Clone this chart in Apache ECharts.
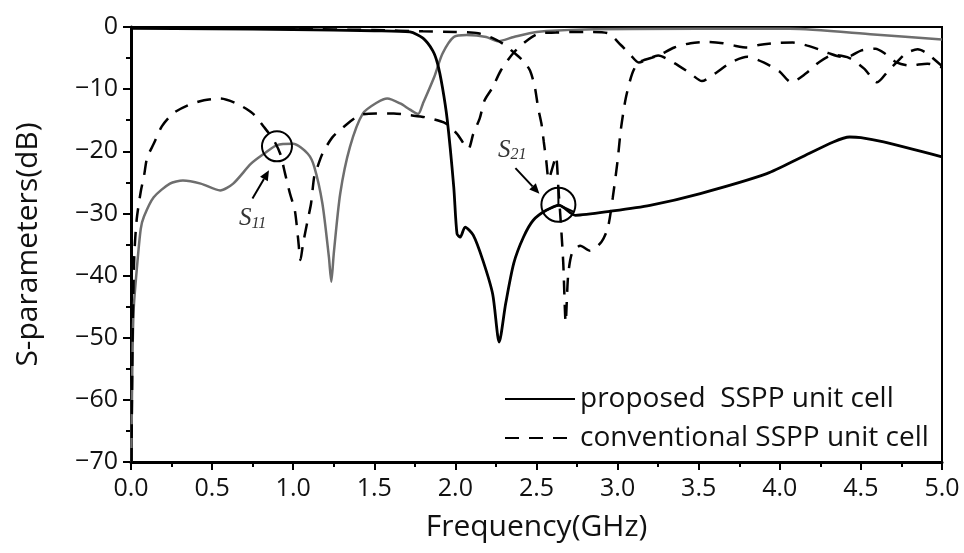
<!DOCTYPE html>
<html>
<head>
<meta charset="utf-8">
<title>S-parameters</title>
<script src="https://cdn.jsdelivr.net/npm/echarts@6/dist/echarts.min.js"></script>
<style>html,body{margin:0;padding:0;background:#fff}</style>
</head>
<body>
<div id="main" style="width:964px;height:553px;"></div>
<script>
// [frequency GHz, dB]
var proposedS21 = [[0,-0.2],[0.5,-0.3],[1.0,-0.4],[1.5,-0.6],[1.72,-0.8],[1.8,-1.8],[1.86,-3.8],[1.89,-5.9],[1.92,-9.7],[1.95,-15],[1.99,-25.8],[2.01,-33.3],[2.03,-33.8],[2.06,-32.2],[2.11,-33.5],[2.17,-37.6],[2.23,-43],[2.27,-50.7],[2.31,-44.5],[2.36,-38],[2.42,-33.8],[2.48,-31.1],[2.56,-29.5],[2.64,-28.7],[2.74,-30.3],[2.97,-29.6],[3.2,-28.7],[3.51,-26.8],[3.92,-23.6],[4.13,-21],[4.33,-18.5],[4.43,-17.7],[4.5,-17.8],[4.64,-18.5],[5.0,-20.9]];
var proposedS11 = [[0.002,-70],[0.008,-55],[0.016,-45.6],[0.037,-38.6],[0.06,-32.5],[0.08,-30.5],[0.14,-27.4],[0.24,-25.2],[0.32,-24.7],[0.43,-25.2],[0.55,-26.3],[0.63,-25.2],[0.74,-22],[0.82,-20.4],[0.9,-19],[1.0,-18.8],[1.09,-20.4],[1.13,-22.5],[1.18,-28.4],[1.22,-37],[1.235,-41],[1.25,-36.5],[1.29,-26.8],[1.35,-19.3],[1.43,-13.9],[1.52,-12.1],[1.58,-11.5],[1.66,-12.3],[1.72,-13.3],[1.77,-14],[1.8,-12.3],[1.87,-8],[1.92,-4.3],[1.99,-1.6],[2.07,-1.3],[2.19,-1.6],[2.26,-2.3],[2.36,-1.6],[2.5,-0.8],[2.8,-0.4],[3.5,-0.3],[4.06,-0.3],[4.58,-1.2],[5.0,-2.0]];
var conventionalS21 = [[0,-0.1],[0.5,-0.2],[1.0,-0.3],[1.5,-0.5],[1.8,-0.7],[2.0,-0.8],[2.14,-1.0],[2.23,-1.8],[2.3,-2.8],[2.36,-4.1],[2.42,-5.5],[2.46,-7],[2.49,-9.7],[2.51,-13],[2.53,-15.5],[2.545,-18.5],[2.56,-21.5],[2.575,-24.5],[2.6,-22.5],[2.62,-20.8],[2.635,-26],[2.65,-31.5],[2.665,-38],[2.68,-47.5],[2.695,-40],[2.72,-36.3],[2.77,-35.2],[2.83,-36],[2.9,-34.6],[2.94,-32.3],[2.97,-27.5],[3.0,-21.5],[3.02,-16.5],[3.05,-11.5],[3.09,-7.5],[3.13,-5.7],[3.25,-4.6],[3.35,-3.3],[3.45,-2.6],[3.56,-2.4],[3.65,-2.6],[3.72,-3.0],[3.8,-3.3],[3.87,-2.9],[3.97,-2.6],[4.08,-2.5],[4.17,-3.0],[4.24,-3.6],[4.3,-4.2],[4.38,-4.8],[4.44,-4.6],[4.5,-3.8],[4.59,-3.5],[4.65,-4.3],[4.72,-5.7],[4.8,-6.2],[4.91,-5.9],[5.0,-6.5]];
var conventionalS11 = [[0.003,-70],[0.01,-50],[0.02,-37],[0.035,-31],[0.06,-26.5],[0.08,-24],[0.1,-21],[0.14,-18.8],[0.19,-16],[0.26,-13.9],[0.35,-12.6],[0.45,-11.8],[0.55,-11.5],[0.65,-12.3],[0.75,-13.9],[0.82,-16.1],[0.88,-18.2],[0.92,-20.4],[0.95,-23.6],[0.98,-26.8],[1.01,-29.5],[1.03,-34],[1.045,-37.5],[1.06,-35],[1.09,-31],[1.11,-28.4],[1.13,-24],[1.15,-22.5],[1.18,-20.4],[1.24,-17.8],[1.31,-16.1],[1.41,-14.2],[1.51,-13.9],[1.62,-13.9],[1.72,-14.2],[1.81,-14.5],[1.94,-15.5],[2.01,-17.2],[2.08,-19.6],[2.11,-17.2],[2.15,-14.7],[2.18,-11.8],[2.23,-9.7],[2.28,-7],[2.36,-4.1],[2.45,-2],[2.52,-1],[2.62,-0.9],[2.73,-0.8],[2.83,-0.8],[2.94,-1],[3.02,-2.9],[3.08,-4.5],[3.13,-5.7],[3.25,-4.6],[3.35,-5.8],[3.45,-7.5],[3.52,-8.7],[3.6,-7.5],[3.7,-5.7],[3.8,-4.8],[3.9,-5.7],[4.0,-7.2],[4.07,-8.9],[4.16,-7.5],[4.24,-5.7],[4.33,-4.5],[4.43,-5.0],[4.52,-6.7],[4.6,-8.9],[4.67,-7.0],[4.72,-5.7],[4.78,-4.2],[4.85,-3.6],[4.91,-4.3],[5.0,-6.3]];

var xTickLabels = ['0.0','0.5','1.0','1.5','2.0','2.5','3.0','3.5','4.0','4.5','5.0'];
var yTickLabels = ['\u221270','\u221260','\u221250','\u221240','\u221230','\u221220','\u221210','0'];
var seriesNames = ['proposed  SSPP unit cell', 'conventional SSPP unit cell'];

// annotation anchors in data coordinates
var s11Circle = [0.9, -19.2];
var s21Circle = [2.635, -28.6];

var font = 'Open Sans';
var myChart = echarts.init(document.getElementById('main'));

var option = {
    animation: false,
    grid: { left: 131, right: 22, top: 27, bottom: 91, show: true, borderColor: '#000', borderWidth: 2, outerBoundsMode: 'none' },
    legend: {
        data: seriesNames,
        orient: 'vertical',
        left: 499,
        top: 380,
        itemWidth: 70,
        itemHeight: 14,
        itemGap: 11,
        itemStyle: { opacity: 0 },
        textStyle: { fontFamily: font, fontSize: 28, color: '#111' }
    },
    xAxis: {
        type: 'value', min: 0, max: 5, interval: 0.5,
        name: 'Frequency(GHz)', nameLocation: 'middle', nameGap: 50,
        nameTextStyle: { fontFamily: font, fontSize: 30, color: '#111' },
        axisLine: { onZero: false, lineStyle: { color: '#000', width: 3 } },
        axisTick: { length: 8, lineStyle: { width: 2, color: '#000' } },
        minorTick: { show: true, splitNumber: 2, length: 5, lineStyle: { width: 2, color: '#000' } },
        splitLine: { show: false },
        axisLabel: {
            margin: 14, fontFamily: font, fontSize: 25, color: '#111',
            formatter: function (v) { return xTickLabels[Math.round(v / 0.5)]; }
        }
    },
    yAxis: {
        type: 'value', min: -70, max: 0, interval: 10,
        name: 'S-parameters(dB)', nameLocation: 'middle', nameGap: 88,
        nameTextStyle: { fontFamily: font, fontSize: 30, color: '#111' },
        axisLine: { onZero: false, lineStyle: { color: '#000', width: 3 } },
        axisTick: { length: 8, lineStyle: { width: 2, color: '#000' } },
        minorTick: { show: true, splitNumber: 2, length: 5, lineStyle: { width: 2, color: '#000' } },
        splitLine: { show: false },
        axisLabel: {
            margin: 13, fontFamily: font, fontSize: 25, color: '#111',
            formatter: function (v) { return yTickLabels[Math.round((v + 70) / 10)]; }
        }
    },
    series: [
        {
            name: seriesNames[0], type: 'line', data: proposedS21, symbol: 'none', smooth: 0.25,
            lineStyle: { color: '#000', width: 2.8 }, itemStyle: { color: '#000' }, z: 4
        },
        {
            name: seriesNames[0], type: 'line', data: proposedS11, symbol: 'none', smooth: 0.25,
            lineStyle: { color: '#6e6e6e', width: 2.5 }, itemStyle: { color: '#6e6e6e' }, z: 2
        },
        {
            name: seriesNames[1], type: 'line', data: conventionalS11, symbol: 'none', smooth: 0.25,
            lineStyle: { color: '#000', width: 2.5, type: [14, 10] }, itemStyle: { color: '#000' }, z: 3
        },
        {
            name: seriesNames[1], type: 'line', data: conventionalS21, symbol: 'none', smooth: 0.25,
            lineStyle: { color: '#000', width: 2.5, type: [14, 10] }, itemStyle: { color: '#000' }, z: 3
        }
    ]
};
myChart.setOption(option);

function px(p) { return myChart.convertToPixel({ gridIndex: 0 }, p); }
function arrow(a, b) {
    var ang = Math.atan2(b[1] - a[1], b[0] - a[0]);
    var L = 10, W = 4.5;
    var bx = b[0] - L * Math.cos(ang), by = b[1] - L * Math.sin(ang);
    return [
        { type: 'line', shape: { x1: a[0], y1: a[1], x2: bx, y2: by }, style: { stroke: '#000', lineWidth: 2 }, z: 10 },
        { type: 'polygon', shape: { points: [[b[0], b[1]], [bx - W * Math.sin(ang), by + W * Math.cos(ang)], [bx + W * Math.sin(ang), by - W * Math.cos(ang)]] }, style: { fill: '#000' }, z: 10 }
    ];
}
function subLabel(p, sub) {
    return {
        type: 'text', x: p[0], y: p[1], z: 10,
        style: {
            text: '{s|S}{n|' + sub + '}', align: 'center', verticalAlign: 'middle',
            rich: {
                s: { fontFamily: 'Liberation Serif', fontStyle: 'italic', fontSize: 25, fill: '#333', lineHeight: 26, verticalAlign: 'bottom' },
                n: { fontFamily: 'Liberation Serif', fontStyle: 'italic', fontSize: 16, fill: '#333', lineHeight: 18, verticalAlign: 'bottom' }
            }
        }
    };
}

var c1 = px(s11Circle), c2 = px(s21Circle), r2 = 17;
var els = [
    { type: 'circle', shape: { cx: c1[0], cy: c1[1], r: 15 }, style: { fill: 'none', stroke: '#000', lineWidth: 2 }, z: 10 },
    { type: 'circle', shape: { cx: c2[0], cy: c2[1], r: r2 }, style: { fill: 'none', stroke: '#000', lineWidth: 2 }, z: 10 }
];
[-90, 155, 25].forEach(function (d) {
    var t = d * Math.PI / 180;
    els.push({ type: 'line', shape: { x1: c2[0], y1: c2[1], x2: c2[0] + r2 * Math.cos(t), y2: c2[1] + r2 * Math.sin(t) }, style: { stroke: '#000', lineWidth: 2 }, z: 10 });
});
var p1 = px([0.749, -27.6]), h1 = [c1[0] - 8, c1[1] + 24];
var p2 = px([2.37, -22.7]), h2 = [c2[0] - 19, c2[1] - 11];
els = els.concat(arrow(p1, h1), arrow(p2, h2));
els.push(subLabel(px([0.75, -30.8]), '11'));
els.push(subLabel(px([2.35, -19.8]), '21'));
myChart.setOption({ graphic: { elements: els } });
</script>
</body>
</html>
